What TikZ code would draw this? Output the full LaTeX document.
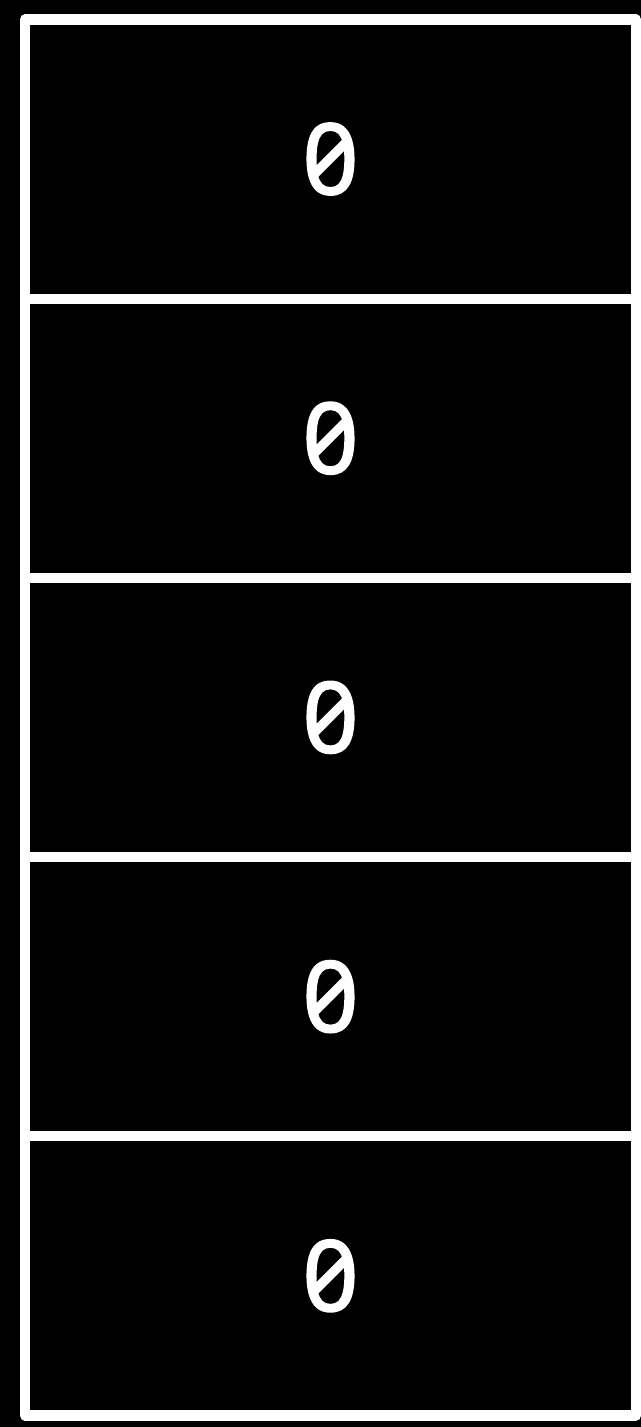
\documentclass[tikz,border=0pt]{standalone}
\usepackage{fontspec}
\newfontfamily\cellfont[RawFeature=+zero, FakeBold=1.5]{Noto Sans}
\definecolor{cellwhite}{RGB}{255, 255, 255}
\usepackage{tikz}
\usetikzlibrary{positioning}

\begin{document}
\begin{tikzpicture}[
  cell/.style={draw=cellwhite, line width=5.8pt, line join=round, minimum width=12.22cm, minimum height=5.584cm, inner sep=0pt, outer sep=0pt, text=cellwhite, font=\fontsize{56}{60}\selectfont\cellfont}
]
  \fill[black] (0, 0) rectangle (12.82, -28.54);
  \useasboundingbox (0, 0) rectangle (12.82, -28.54);
  \node[cell] (cell1) at (6.61, -3.18) {0};
  \node[cell, below=0pt of cell1] (cell2) {0};
  \node[cell, below=0pt of cell2] (cell3) {0};
  \node[cell, below=0pt of cell3] (cell4) {0};
  \node[cell, below=0pt of cell4] (cell5) {0};
\end{tikzpicture}
\end{document}
